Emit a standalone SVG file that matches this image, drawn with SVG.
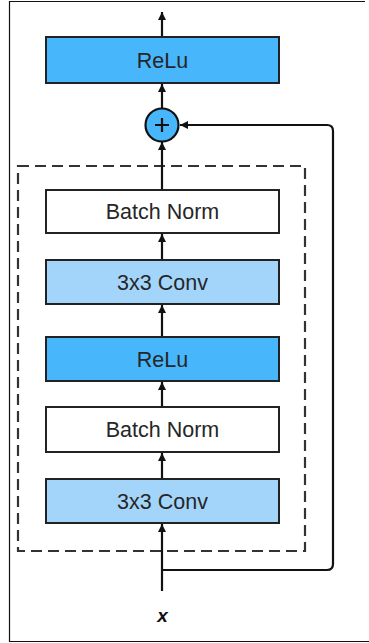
<svg xmlns="http://www.w3.org/2000/svg" width="369" height="643" viewBox="0 0 369 643">
<style>
.box{stroke:#222;stroke-width:2}
.relu{fill:#47B6FA}
.conv{fill:#A3D5FB}
.bn{fill:#fff}
.lbl{font-family:"Liberation Sans",Arial,sans-serif;font-size:21.5px;fill:#262626;text-anchor:middle}
.ln{stroke:#111;stroke-width:2.2;fill:none}
</style>
<defs>
<marker id="ah" viewBox="0 0 10 10" refX="10" refY="5" markerWidth="8" markerHeight="8" markerUnits="userSpaceOnUse" orient="auto">
<path d="M0,0 L10,5 L0,10 z" fill="#111"/>
</marker>
</defs>
<rect width="369" height="643" fill="#fff"/>
<path d="M365,1.5 H9.5 V641.5 H369" fill="none" stroke="#111" stroke-width="1.2"/>
<rect x="18" y="166" width="287" height="385" fill="none" stroke="#333" stroke-width="2.2" stroke-dasharray="11,6"/>
<g id="connectors">
<line class="ln" x1="162" y1="37" x2="162" y2="12" marker-end="url(#ah)"/>
<line class="ln" x1="162" y1="108" x2="162" y2="84" marker-end="url(#ah)"/>
<line class="ln" x1="162" y1="190" x2="162" y2="142" marker-end="url(#ah)"/>
<line class="ln" x1="162" y1="260" x2="162" y2="234" marker-end="url(#ah)"/>
<line class="ln" x1="162" y1="337" x2="162" y2="305" marker-end="url(#ah)"/>
<line class="ln" x1="162" y1="407" x2="162" y2="382" marker-end="url(#ah)"/>
<line class="ln" x1="162" y1="479" x2="162" y2="453" marker-end="url(#ah)"/>
<line class="ln" x1="162" y1="591" x2="162" y2="524" marker-end="url(#ah)"/>
<path class="ln" d="M162,570 H327 Q333,570 333,564 V131 Q333,125 327,125 H180" marker-end="url(#ah)"/>
</g>
<g id="relu_top">
<rect class="box relu" x="46" y="37" width="233" height="46"/>
<text class="lbl" x="162.5" y="67.5">ReLu</text>
</g>
<g id="add">
<circle cx="162" cy="125" r="16.5" fill="#47B6FA" stroke="#111" stroke-width="2.2"/>
<path d="M155,125 H169 M162,118 V132" stroke="#111" stroke-width="2.2"/>
</g>
<g id="bn_top">
<rect class="box bn" x="46" y="190" width="233" height="43"/>
<text class="lbl" x="162.5" y="218.5">Batch Norm</text>
</g>
<g id="conv_top">
<rect class="box conv" x="46" y="260" width="233" height="44"/>
<text class="lbl" x="162.5" y="289.5">3x3 Conv</text>
</g>
<g id="relu_mid">
<rect class="box relu" x="46" y="337" width="233" height="44"/>
<text class="lbl" x="162.5" y="366.5">ReLu</text>
</g>
<g id="bn_bottom">
<rect class="box bn" x="46" y="407" width="233" height="45"/>
<text class="lbl" x="162.5" y="437">Batch Norm</text>
</g>
<g id="conv_bottom">
<rect class="box conv" x="46" y="479" width="233" height="44"/>
<text class="lbl" x="162.5" y="508.5">3x3 Conv</text>
</g>
<g id="input">
<text x="162.5" y="622" font-family="Liberation Sans, Arial, sans-serif" font-size="19" font-weight="bold" font-style="italic" fill="#111" text-anchor="middle">x</text>
</g>
</svg>
